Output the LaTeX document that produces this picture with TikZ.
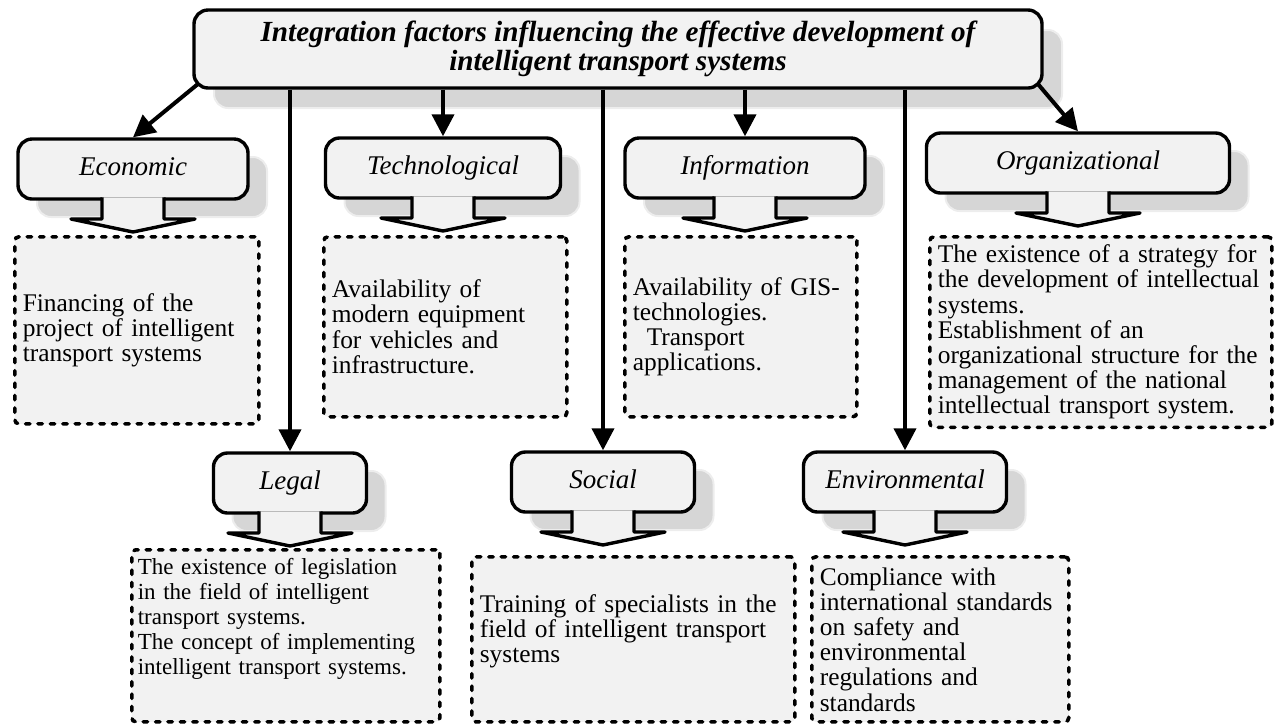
\documentclass[tikz,border=0pt]{standalone}
\usepackage{fontspec}
\setmainfont{Liberation Serif}
\usepackage{xcolor}
\usepackage{tikz}
\usetikzlibrary{calc,positioning,arrows.meta}
\definecolor{boxgray}{HTML}{F2F2F2}
\definecolor{shadowgray}{HTML}{D6D6D6}

\begin{document}
\begin{tikzpicture}[x=0.5pt,y=-0.5pt,
		title/.style={draw,line width=1.7pt,rounded corners=7pt,fill=boxgray,minimum width=424pt,minimum height=39pt,inner sep=0pt,align=center,font=\fontsize{14.6}{14.5}\selectfont\bfseries\itshape},
		factor/.style={draw,line width=1.7pt,rounded corners=7pt,fill=boxgray,inner sep=0pt,minimum height=30pt,text height=9.5pt,text depth=3pt,font=\fontsize{13.5}{14}\selectfont\itshape},
		outline/.style={draw,line width=1.7pt,fill=boxgray,line join=round},
		shade/.style={fill=shadowgray,draw=black!7,line width=1pt,rounded corners=7pt},
		infobox/.style={draw,line width=1.8pt,dash pattern=on 2.2pt off 4pt,line cap=round,fill=boxgray,rounded corners=2pt,anchor=north west,align=left,inner sep=4pt,font=\fontsize{12.7}{12.6}\selectfont},
		link/.style={line width=2pt,-{Triangle[length=11pt,width=11pt]}}]
		\useasboundingbox (0,0) rectangle (1274,725);
		\fill[shade] (214,30) rectangle (1062,108);
		\node[title] (title) at (618,49) {Integration factors influencing the effective development of\\intelligent transport systems};
		\foreach \nm/\cx/\ty/\w/\lab in {eco/133/139/230/Economic,tech/443/138/235/Technological,inf/745/138/240/Information,org/1078/133/303/Organizational,leg/290/453/153/Legal,soc/603/452/183/Social,env/905/452/203/Environmental}{
			\fill[shade] (\cx-\w/2+19,\ty+18) rectangle ++(\w,60);
			\node[factor,minimum width=\w*0.5pt] (\nm) at (\cx,\ty+30) {\lab};
			\draw[outline] (\cx-31,\ty+58.4) -- (\cx-31,\ty+80) -- (\cx-62,\ty+80) -- (\cx,\ty+93) -- (\cx+62,\ty+80) -- (\cx+31,\ty+80) -- (\cx+31,\ty+58.4);
		}
		\draw[link] ($(title.south west)+(6,-6)$) -- (eco.north);
		\draw[link] ($(title.south east)+(-6,-6)$) -- (org.north);
		\foreach \nm in {leg,tech,soc,inf,env}
			\draw[link] (title.south -| \nm.north) -- (\nm.north);
		\node[infobox,minimum width=122pt,minimum height=93.5pt,text width=114pt] (ecotext) at (13,235) {Financing of the\\project of intelligent\\transport systems};
		\node[infobox,minimum width=121.5pt,minimum height=90pt,text width=113.5pt] (techtext) at (322,235) {Availability of\\modern equipment\\for vehicles and\\infrastructure.};
		\node[infobox,minimum width=116pt,minimum height=90pt,text width=108pt] (inftext) at (623,235) {Availability of GIS-\\technologies.\\\hspace*{7pt}Transport\\applications.};
		\node[infobox,minimum width=171pt,minimum height=91.5pt,text width=163pt] (orgtext) at (928,235) {The existence of a strategy for\\the development of intellectual\\systems.\\Establishment of an\\organizational structure for the\\management of the national\\intellectual transport system.};
		\node[infobox,inner sep=3pt,minimum width=154pt,minimum height=86pt,text width=148pt,text depth=69pt,font=\fontsize{11.5}{12.5}\selectfont] (legtext) at (130,548) {The existence of legislation\\in the field of intelligent\\transport systems.\\The concept of implementing\\intelligent transport systems.};
		\node[infobox,minimum width=161.5pt,minimum height=82.5pt,text width=153.5pt,text depth=36pt] (soctext) at (470,555) {Training of specialists in the\\field of intelligent transport\\systems};
		\node[infobox,minimum width=128.5pt,minimum height=82.5pt,text width=120.5pt] (envtext) at (810,555) {Compliance with\\international standards\\on safety and\\environmental\\regulations and\\standards};
\end{tikzpicture}
\end{document}
